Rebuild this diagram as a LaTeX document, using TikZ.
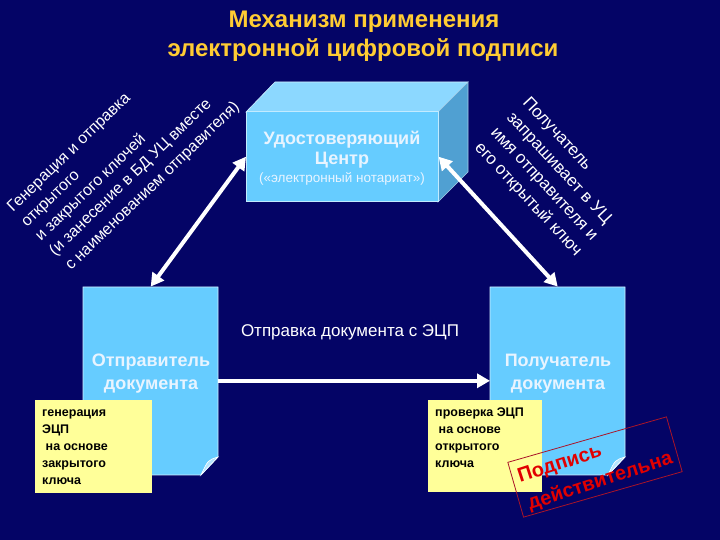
\documentclass[tikz,border=0pt]{standalone}
\usepackage{fontspec}
\setmainfont{Liberation Sans}
\usetikzlibrary{arrows.meta}
\definecolor{bg}{RGB}{4,4,102}
\definecolor{docblue}{RGB}{102,204,255}
\definecolor{topblue}{RGB}{140,216,255}
\definecolor{sideblue}{RGB}{80,160,210}
\definecolor{foldblue}{RGB}{180,228,255}
\definecolor{notey}{RGB}{255,255,153}
\definecolor{titley}{RGB}{255,204,51}
\definecolor{stampred}{RGB}{225,0,0}
\definecolor{stampline}{RGB}{170,20,40}
\definecolor{paletext}{RGB}{232,244,255}
\begin{document}
\begin{tikzpicture}[x=1pt,y=1pt,
  conn/.style={white, line width=4pt, -{Triangle[length=13pt,width=14pt]}},
  conntwo/.style={white, line width=4pt, {Triangle[length=13pt,width=14pt]}-{Triangle[length=13pt,width=14pt]}},
  titletext/.style={titley, font=\fontsize{24}{28}\bfseries\selectfont, anchor=base, inner sep=0pt},
  rotleft/.style={white, font=\fontsize{16}{20}\selectfont, anchor=base west, inner sep=0pt, rotate=44},
  rotright/.style={white, font=\fontsize{17}{21}\selectfont, anchor=base west, inner sep=0pt, rotate=-47},
  boxbold/.style={paletext, font=\fontsize{18}{21}\bfseries\selectfont, anchor=base, inner sep=0pt},
  boxsmall/.style={paletext, font=\fontsize{13.5}{16}\selectfont, anchor=base, inner sep=0pt},
  doctext/.style={paletext, font=\fontsize{18}{21}\bfseries\selectfont, anchor=base, inner sep=0pt},
  notetext/.style={black, font=\fontsize{12.5}{15}\bfseries\selectfont, anchor=base west, inner sep=0pt},
  notebox/.style={fill=notey, draw=none, anchor=south west, inner sep=0pt},
  docframe/.style={anchor=south west, inner sep=0pt, minimum width=135pt, minimum height=188pt},
  docfill/.style={fill=docblue, draw=white!70!docblue, line width=0.7pt},
  stamptext/.style={stampred, font=\fontsize{20}{24}\bfseries\selectfont, anchor=base west, inner sep=0pt, rotate=18},
  labeltext/.style={white, font=\fontsize{17}{20}\selectfont, anchor=base, inner sep=0pt}
]
\fill[bg] (0,0) rectangle (720,540);
\useasboundingbox (0,0) rectangle (720,540);

% title
\node[titletext] (t1) at (364,512) {Механизм применения};
\node[titletext] (t2) at (363,483) {электронной цифровой подписи};

% 3D box
\fill[topblue, draw=white!60!topblue, line width=0.6pt] (246,428) -- (275,458) -- (468,458) -- (438,428) -- cycle;
\fill[sideblue, draw=white!50!sideblue, line width=0.6pt] (438,428) -- (468,458) -- (468,368) -- (438,338) -- cycle;
\node[fill=docblue, draw=white!60!docblue, line width=0.6pt, anchor=south west, inner sep=0pt, minimum width=192pt, minimum height=90pt] (uc) at (246,338) {};
\node[boxbold] (uc1) at (342,395) {Удостоверяющий};
\node[boxbold] (uc2) at (342,375) {Центр};
\node[boxsmall] (uc3) at (342,357) {(«электронный нотариат»)};

% sender document
\node[docframe] (sender) at (83,65) {};
\fill[docfill] (83,253) -- (218,253) -- (218,83) -- (201,65) -- (83,65) -- cycle;
\fill[foldblue, draw=white, line width=0.6pt] (218,83) .. controls (208,80) .. (201,65) -- cycle;
\node[doctext] (s1) at (151,173) {Отправитель};
\node[doctext] (s2) at (151,150) {документа};

% receiver document
\node[docframe] (receiver) at (490,65) {};
\fill[docfill] (490,253) -- (625,253) -- (625,83) -- (608,65) -- (490,65) -- cycle;
\fill[foldblue, draw=white, line width=0.6pt] (625,83) .. controls (615,80) .. (608,65) -- cycle;
\node[doctext] (r1) at (558,173) {Получатель};
\node[doctext] (r2) at (558,150) {документа};

% notes
\node[notebox, minimum width=117pt, minimum height=93pt] (n1) at (35,47) {};
\node[notetext] (n1a) at (42,123) {генерация};
\node[notetext] (n1b) at (42,106) {ЭЦП};
\node[notetext] (n1c) at (42,89) {\hspace*{3.5pt}на основе};
\node[notetext] (n1d) at (42,72) {закрытого};
\node[notetext] (n1e) at (42,55) {ключа};

\node[notebox, minimum width=114pt, minimum height=92pt] (n2) at (428,48) {};
\node[notetext] (n2a) at (435,123) {проверка ЭЦП};
\node[notetext] (n2b) at (435,106) {\hspace*{3.5pt}на основе};
\node[notetext] (n2c) at (435,89) {открытого};
\node[notetext] (n2d) at (435,72) {ключа};

% connectors
\coordinate (sendtop) at (sender.north);
\coordinate (ucleft) at (uc.west);
\coordinate (ucright) at (uc.east);
\coordinate (rectop) at (receiver.north);
\draw[conntwo] (sendtop) -- (ucleft);
\draw[conntwo] (ucright) -- (rectop);
\draw[conn] (sender.east) -- (receiver.west);
\node[labeltext] (lab) at (350,203) {Отправка документа с ЭЦП};

% rotated left text
\node[rotleft] (l1) at (13,327) {Генерация и отправка};
\node[rotleft] (l2) at (27,312.5) {открытого};
\node[rotleft] (l3) at (41,298) {и закрытого ключей};
\node[rotleft] (l4) at (55,283.5) {(и занесение в БД УЦ вместе};
\node[rotleft] (l5) at (71,269) {с наименованием отправителя)};

% rotated right text
\node[rotright] (q1) at (522,437) {Получатель};
\node[rotright] (q2) at (506,422) {запрашивает в УЦ};
\node[rotright] (q3) at (490,407) {имя отправителя и};
\node[rotright] (q4) at (474,392) {его открытый ключ};

% stamp
\node[draw=stampline, line width=0.8pt, minimum width=165pt, minimum height=57pt, inner sep=0pt, rotate=16] (stamp) at (595,73) {};
\node[stamptext] (st1) at (520,57) {Подпись};
\node[stamptext] (st2) at (530,30) {действительна};
\end{tikzpicture}
\end{document}
